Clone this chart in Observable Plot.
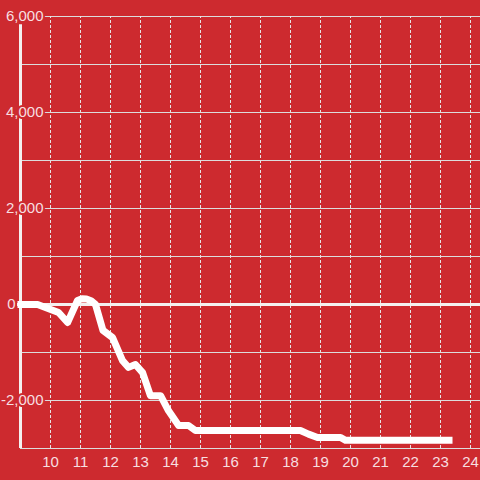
<!DOCTYPE html>
<html>
<head>
<meta charset="utf-8">
<script src="https://cdn.jsdelivr.net/npm/d3@7"></script>
<script src="https://cdn.jsdelivr.net/npm/@observablehq/plot@0.6"></script>
<style>
  html, body { margin: 0; padding: 0; background: #cd2a2f; }
  #chart { width: 480px; height: 480px; }
  svg { display: block; }
</style>
</head>
<body>
<div id="chart"></div>
<script>
const hours = [8.9, 9.57, 10.27, 10.57, 10.9, 11.05, 11.2, 11.35, 11.5, 11.75, 12.07, 12.4, 12.6, 12.83, 13.07, 13.33, 13.67, 13.93, 14.27, 14.6, 14.83, 18.33, 18.6, 18.9, 19.67, 19.83, 23.4];
const values = [0, 0, -167, -375, 83, 120, 115, 80, 0, -540, -690, -1170, -1310, -1250, -1420, -1900, -1900, -2210, -2520, -2520, -2625, -2625, -2700, -2770, -2770, -2830, -2830];
const xTicks = [10, 11, 12, 13, 14, 15, 16, 17, 18, 19, 20, 21, 22, 23, 24];
const yGrid = [-3000, -2000, -1000, 1000, 2000, 3000, 4000, 5000, 6000];
const yLabels = [-2000, 2000, 4000, 6000];
const zeroLabel = [0];

const data = hours.map((h, i) => ({h, v: values[i]}));
const bg = "#cd2a2f";
const labelFill = "#f7dfe0";
const fmt = d3.format(",");

const chart = Plot.plot({
  width: 480,
  height: 480,
  margin: 0,
  style: {background: bg, fontFamily: "Liberation Sans, Arial, sans-serif"},
  x: {domain: [9, 24.333], range: [20, 480], axis: null},
  y: {domain: [-3000, 6000], range: [448, 16], axis: null},
  marks: [
    Plot.ruleY(yGrid, {y: d => d, x1: 9, x2: 24.333, stroke: "#dcdcdc", strokeWidth: 1}),
    Plot.ruleX(xTicks, {x: d => d, y1: -3000, y2: 6000, stroke: "#e6e6e6", strokeWidth: 1, strokeDasharray: "3,2"}),
    Plot.ruleX([9], {x: d => d, y1: -3000, y2: 5830, stroke: "#f4f0f0", strokeWidth: 3}),
    Plot.ruleY(zeroLabel, {y: d => d, x1: 8.9, x2: 24.333, stroke: "#f4f0f0", strokeWidth: 3}),
    Plot.line(data, {x: "h", y: "v", stroke: "white", strokeWidth: 7, strokeLinejoin: "round", strokeLinecap: "butt"}),
    Plot.text(yLabels, {x: 9, y: d => d, text: d => fmt(d).replace("−", "-"), textAnchor: "end", dx: 23, fill: labelFill, stroke: bg, strokeWidth: 4, fontSize: 15}),
    Plot.text(zeroLabel, {x: 9, y: d => d, text: d => String(d), textAnchor: "end", dx: -5, fill: labelFill, fontSize: 15}),
    Plot.text(xTicks, {x: d => d, y: -3000, text: d => String(d), dy: 14, fill: labelFill, fontSize: 15})
  ]
});
document.getElementById("chart").appendChild(chart);
</script>
</body>
</html>
